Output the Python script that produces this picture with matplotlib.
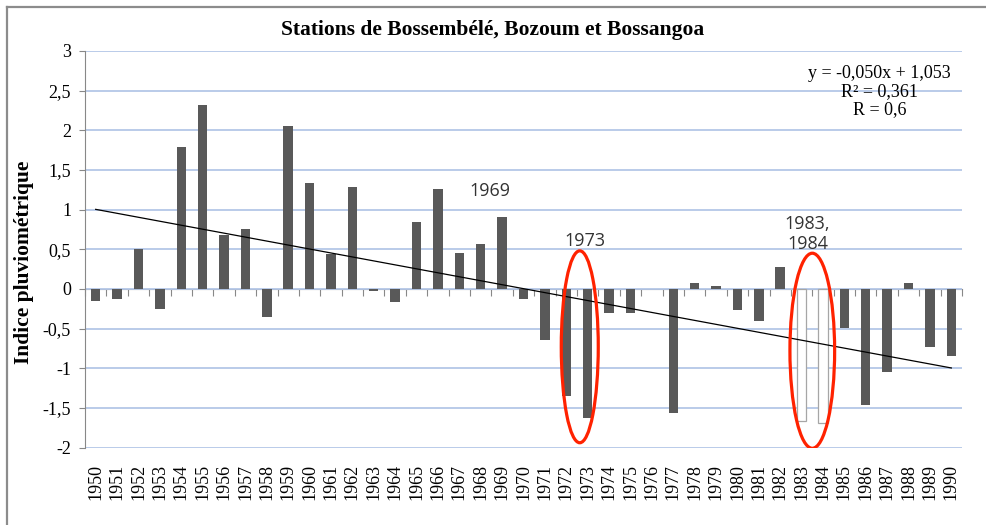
import numpy as np
import matplotlib
matplotlib.use("Agg")
import matplotlib.pyplot as plt
from matplotlib.patches import Ellipse
from matplotlib.lines import Line2D

# =========================================================
# Données
# =========================================================
annees = list(range(1950, 1991))
indice = [
    -0.15, -0.13, 0.50, -0.25, 1.79, 2.32, 0.68, 0.75, -0.36, 2.05,
    1.34, 0.44, 1.29, -0.03, -0.16, 0.84, 1.26, 0.45, 0.57, 0.91,
    -0.13, -0.65, -1.35, -1.63, -0.30, -0.30, 0.00, -1.57, 0.08, 0.04,
    -0.27, -0.40, 0.27, -1.67, -1.69, -0.49, -1.47, -1.05, 0.07, -0.73,
    -0.85,
]
annees_creuses = [1983, 1984]   # barres en blanc
pente, ordonnee = -0.050, 1.053
texte_eq = "y = -0,050x + 1,053\nR² = 0,361\nR = 0,6"
y_ticks = [-2, -1.5, -1, -0.5, 0, 0.5, 1, 1.5, 2, 2.5, 3]

# =========================================================
# Figure
# =========================================================
fig = plt.figure(figsize=(9.87, 5.25), dpi=100)
ax = fig.add_axes([0.0861, 0.1476, 0.8886, 0.7553])

serif = ["Liberation Serif", "DejaVu Serif"]
sans = ["Open Sans", "DejaVu Sans"]

x = np.arange(len(annees))
creuse = [a in annees_creuses for a in annees]
couleurs = ["white" if c else "#595959" for c in creuse]
bords = ["#a6a6a6" if c else "#595959" for c in creuse]
epaisseurs = [0.9 if c else 0 for c in creuse]
ax.bar(x, indice, width=0.44, color=couleurs, edgecolor=bords,
       linewidth=epaisseurs, zorder=3)

# droite de tendance (équation du graphique, x = 1..41)
rang = x + 1
ax.plot(x, pente * rang + ordonnee, color="black", linewidth=0.9, zorder=4)

ax.set_xlim(-0.5, len(annees) - 0.5)
ax.set_ylim(-2, 3)
ax.set_yticks(y_ticks)
ax.set_yticklabels([f"{v:g}".replace(".", ",") for v in y_ticks],
                   fontfamily=serif, fontsize=13)
ax.tick_params(axis="y", length=4, color="#888888", pad=6)
ax.grid(axis="y", color="#b4c7e7", linewidth=1.3, zorder=0)

ax.set_xticks(x)
ax.set_xticklabels([str(a) for a in annees], rotation=90, fontfamily=serif, fontsize=13)
ax.tick_params(axis="x", length=0, pad=12)

for s in ["top", "right", "bottom"]:
    ax.spines[s].set_visible(False)
ax.spines["left"].set_color("#888888")

# axe des x à zéro avec graduations entre catégories
ax0 = ax.secondary_xaxis(2 / 5)
ax0.set_xticks(np.arange(len(annees) + 1) - 0.5)
ax0.set_xticklabels([])
ax0.tick_params(axis="x", direction="out", length=5, color="#888888")
ax0.spines["bottom"].set_color("#888888")

# ellipses rouges
for cx, cy, w, h in [(22.63, -0.73, 1.73, 2.42), (33.5, -0.78, 2.09, 2.46)]:
    ax.add_patch(Ellipse((cx, cy), w, h, fill=False, edgecolor="#ff2200",
                         linewidth=2.3, zorder=5))

ax.text(18.44, 1.23, "1969", ha="center", va="center", fontfamily=sans,
        fontsize=13, color="#333333", zorder=6)
ax.text(22.86, 0.60, "1973", ha="center", va="center", fontfamily=sans,
        fontsize=13, color="#333333", zorder=6)
ax.text(33.28, 0.69, "1983,\n1984", ha="center", va="center", fontfamily=sans,
        fontsize=13, color="#333333", linespacing=1.15, zorder=6)

ax.text(0.906, 0.965, texte_eq, transform=ax.transAxes, ha="center", va="top",
        fontfamily=serif, fontsize=13, linespacing=1.1, zorder=6)

fig.text(0.499, 0.943, "Stations de Bossembélé, Bozoum et Bossangoa",
         ha="center", va="center", fontfamily=serif, fontsize=15.5, fontweight="bold")
fig.text(0.024, 0.50, "Indice pluviométrique", rotation=90, ha="center", va="center",
         fontfamily=serif, fontsize=15.5, fontweight="bold")

# cadre gris (haut et gauche seulement)
y_haut = 1 - 6.5 / 525
x_gauche = 6.5 / 987
fig.add_artist(Line2D([x_gauche, 1], [y_haut, y_haut], transform=fig.transFigure,
                      color="#8c8c8c", linewidth=1.6))
fig.add_artist(Line2D([x_gauche, x_gauche], [0, y_haut], transform=fig.transFigure,
                      color="#8c8c8c", linewidth=1.6))

fig.savefig("out.png", dpi=100)
